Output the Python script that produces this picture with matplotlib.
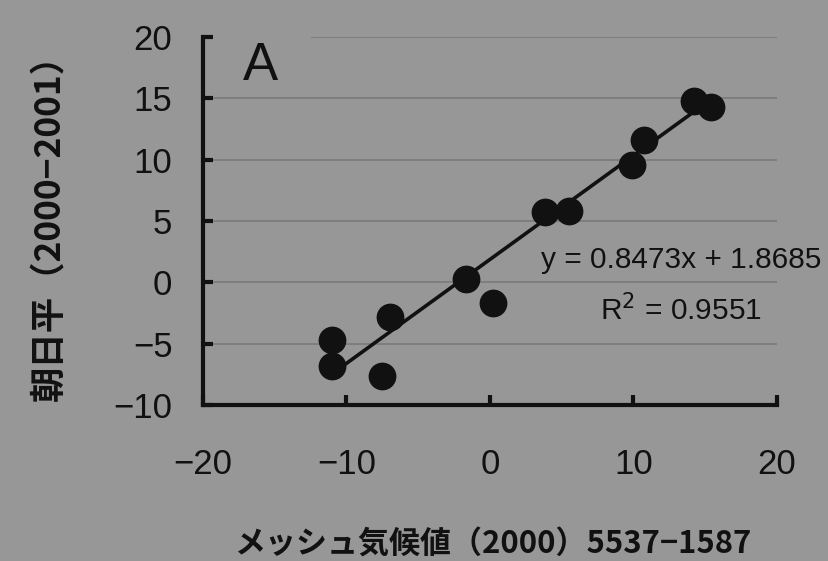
import matplotlib
matplotlib.use("Agg")
import matplotlib.pyplot as plt
from matplotlib import font_manager as fm
import numpy as np

# ---- data ----
x_vals = [-11.0, -11.0, -7.5, -7.0, -1.7, 0.2, 3.8, 5.5, 9.9, 10.7, 14.2, 15.4]
y_vals = [-4.7, -6.8, -7.6, -2.8, 0.3, -1.7, 5.7, 5.8, 9.6, 11.6, 14.8, 14.3]
slope = 0.8473
intercept = 1.8685
r2 = 0.9551
trend_x = [-10.2, 14.3]
x_ticks = [-20, -10, 0, 10, 20]
y_ticks = [-10, -5, 0, 5, 10, 15, 20]
grid_y = [-5, 0, 5, 10, 15, 20]
xlabel = "メッシュ気候値（2000）5537−1587"
ylabel = "朝日平（2000−2001）"
panel = "A"

names = {f.name for f in fm.fontManager.ttflist}
narrow = "Liberation Sans Narrow" if "Liberation Sans Narrow" in names else "Liberation Sans"
cjk = ["Noto Sans CJK JP", "DejaVu Sans"]

bg = "#979797"
ink = "#111111"

fig = plt.figure(figsize=(8.29, 5.61), dpi=100, facecolor=bg)
ax = fig.add_axes([203 / 829, 1 - 405 / 561, 574 / 829, 368 / 561])
ax.set_facecolor("none")
ax.set_xlim(-20, 20)
ax.set_ylim(-10, 20)

# gridlines
for gy in grid_y:
    ax.hlines(gy, -12.5 if gy == 20 else -20, 20, color="#7c7c7c", lw=1.3, zorder=0)

# trend line
tx = np.array(trend_x)
ax.plot(tx, slope * tx + intercept, color=ink, lw=2.6, zorder=2)
# points
ax.scatter(x_vals, y_vals, s=20 ** 2, color=ink, zorder=3, linewidths=0)

for s in ["top", "right"]:
    ax.spines[s].set_visible(False)
for s in ["left", "bottom"]:
    ax.spines[s].set_linewidth(3)
    ax.spines[s].set_color(ink)

ax.set_xticks(x_ticks)
ax.set_yticks(y_ticks)
ax.tick_params(axis="both", direction="in", length=7, width=3, color=ink,
               labelcolor=ink, labelsize=25)
ax.tick_params(axis="x", pad=31)
ax.tick_params(axis="y", pad=22)
for lab in ax.get_xticklabels() + ax.get_yticklabels():
    lab.set_fontfamily(narrow)

ax.text(0.07, 0.883, panel, transform=ax.transAxes, fontsize=38,
        family="Liberation Sans", color=ink, ha="left", va="baseline")

ax.text(13.3, 1.8, f"y = {slope}x + {intercept}", fontsize=21.5, family=narrow,
        color=ink, ha="center", va="center")
ax.text(13.3, -2.3, f"R$^2$ = {r2}", fontsize=21.5, family=narrow,
        color=ink, ha="center", va="center")

fig.text(494 / 829, 1 - 545 / 561, xlabel, fontsize=22.3, family=cjk,
         color=ink, ha="center", va="center", weight="bold")
fig.text(50 / 829, 1 - 219 / 561, ylabel, fontsize=25.5, family=cjk,
         color=ink, ha="center", va="center", rotation=90, weight="bold")

fig.savefig("out.png", dpi=100, facecolor=bg)
